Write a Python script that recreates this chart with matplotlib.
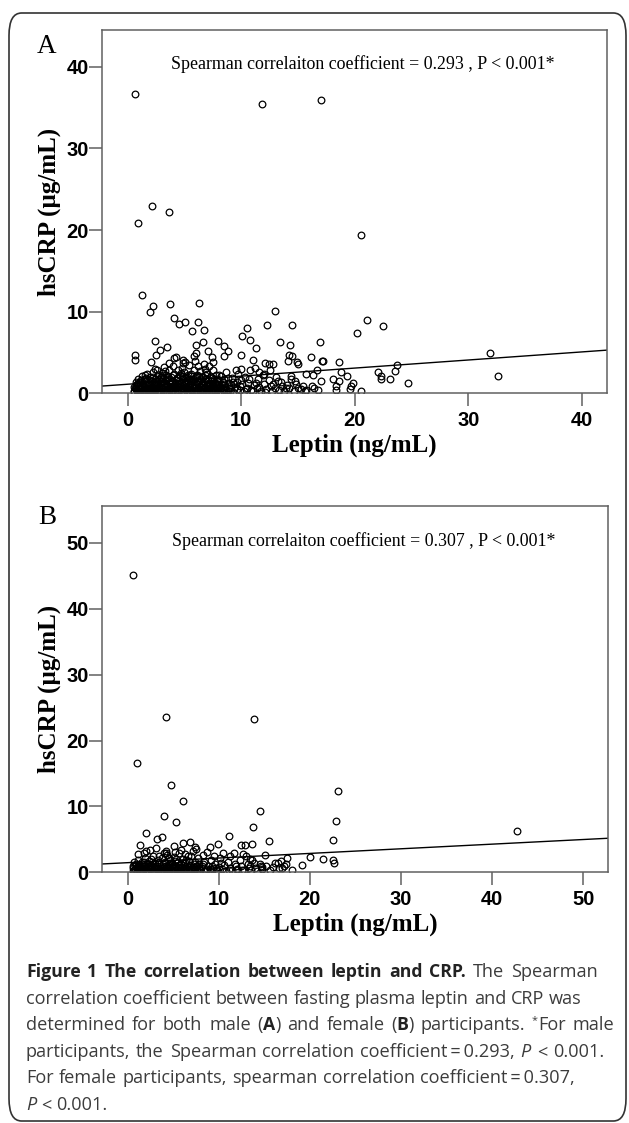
import numpy as np
import matplotlib
matplotlib.use("Agg")
import matplotlib.pyplot as plt
from matplotlib.patches import FancyBboxPatch

# ---- data ----
# panel A (male): leptin (ng/mL), hsCRP (ug/mL)
a_sparse = [
    (0.67, 36.6), (11.8, 35.4), (17.0, 35.9), (2.15, 22.9), (3.63, 22.2), (0.88, 20.9),
    (20.5, 19.4), (1.27, 12.0), (2.26, 10.75), (3.74, 10.9), (1.98, 10.0), (6.24, 11.1),
    (13.0, 10.1), (4.06, 9.2), (4.48, 8.5), (5.08, 8.76), (6.2, 8.7), (5.64, 7.6),
    (6.74, 7.7), (12.3, 8.35), (14.5, 8.35), (10.5, 7.94), (10.1, 7.05), (10.8, 6.56),
    (11.3, 5.58), (21.1, 9.0), (22.5, 8.2), (20.2, 7.33), (13.4, 6.3), (14.3, 5.9),
    (16.9, 6.23), (31.9, 4.93), (32.6, 2.08), (24.7, 1.3), (23.7, 3.46), (23.5, 2.73),
    (23.1, 1.71), (22.3, 1.75), (22.3, 2.16), (22.0, 2.57), (20.5, 0.33), (19.8, 1.3),
    (19.7, 0.86), (19.6, 0.53), (19.3, 2.16), (18.8, 2.65), (18.6, 3.8), (18.3, 0.86),
    (18.3, 0.45), (18.6, 1.55), (18.1, 1.7), (17.2, 4.0), (17.1, 4.0), (17.0, 1.5),
    (16.7, 2.9), (16.3, 2.24), (16.1, 4.4), (16.2, 0.94), (15.7, 2.36), (15.0, 3.6),
    (14.9, 3.87), (14.5, 4.56), (14.2, 4.68), (14.1, 3.9), (14.4, 2.16), (14.7, 1.55),
    (15.3, 0.53), (15.4, 0.94), (15.7, 0.45), (12.8, 3.54), (12.4, 3.58), (12.1, 3.7),
    (12.0, 2.36), (11.6, 2.57), (11.0, 4.07), (10.0, 4.68), (7.97, 6.35), (8.5, 5.74),
    (8.85, 5.13), (8.5, 4.6), (7.1, 5.2), (6.67, 6.23), (6.03, 5.95), (6.03, 4.97),
    (5.8, 4.6), (3.46, 5.7), (2.43, 6.35), (2.86, 5.34), (2.47, 4.68), (2.05, 3.87),
    (0.63, 4.72), (0.63, 4.07), (4.1, 4.36), (4.23, 4.48), (4.87, 4.07), (5.04, 3.87),
    (7.4, 4.48), (7.55, 3.8), (7.16, 3.38), (10.0, 2.97),
]
a_dense = [
    (0.6, 0.3), (0.6, 0.8), (0.7, 1.4), (0.7, 0.5), (0.8, 1.1), (0.9, 0.2), (0.9, 1.8),
    (1.0, 0.6), (1.1, 1.0), (1.1, 0.3), (1.2, 1.6), (1.3, 0.8), (1.3, 2.1), (1.4, 0.4),
    (1.5, 1.2), (1.5, 0.1), (1.6, 1.9), (1.7, 0.7), (1.7, 2.4), (1.8, 1.4), (1.9, 0.3),
    (1.9, 1.0), (2.0, 2.0), (2.0, 0.6), (2.1, 1.5), (2.2, 0.2), (2.2, 2.6), (2.3, 0.9),
    (2.4, 1.8), (2.4, 0.4), (2.5, 1.2), (2.6, 2.9), (2.6, 0.7), (2.7, 2.2), (2.8, 0.2),
    (2.8, 1.6), (2.9, 1.0), (3.0, 2.5), (3.0, 0.5), (3.1, 1.9), (3.2, 0.8), (3.2, 3.2),
    (3.3, 1.3), (3.4, 0.3), (3.4, 2.3), (3.5, 1.7), (3.6, 0.6), (3.6, 2.8), (3.7, 1.1),
    (3.8, 0.2), (3.8, 2.0), (3.9, 1.5), (3.9, 0.9), (4.0, 3.4), (4.0, 0.4), (4.1, 2.4),
    (4.2, 1.2), (4.2, 0.7), (4.3, 1.9), (4.4, 0.3), (4.4, 2.9), (4.5, 1.5), (4.6, 0.9),
    (4.6, 2.2), (4.7, 0.2), (4.8, 1.7), (4.8, 3.1), (4.9, 1.0), (5.0, 0.5), (5.0, 2.6),
    (5.1, 1.4), (5.2, 0.2), (5.2, 2.0), (5.3, 0.8), (5.4, 1.8), (5.4, 3.5), (5.5, 1.1),
    (5.6, 0.4), (5.6, 2.4), (5.7, 1.5), (5.8, 0.7), (5.8, 2.9), (5.9, 1.9), (6.0, 0.3),
    (6.0, 1.2), (6.1, 2.3), (6.2, 0.6), (6.2, 3.3), (6.3, 1.6), (6.4, 0.2), (6.4, 2.7),
    (6.5, 1.0), (6.6, 2.0), (6.6, 0.5), (6.7, 1.4), (6.8, 3.0), (6.8, 0.8), (6.9, 1.8),
    (7.0, 0.3), (7.0, 2.4), (7.1, 1.2), (7.2, 0.6), (7.3, 2.0), (7.3, 1.5), (7.4, 0.2),
    (7.5, 2.8), (7.5, 0.9), (7.6, 1.7), (7.7, 0.4), (7.8, 1.2), (7.8, 2.3), (7.9, 0.7),
    (8.0, 1.6), (8.1, 0.3), (8.2, 2.1), (8.3, 1.0), (8.4, 0.5), (8.5, 1.8), (8.6, 0.8),
    (8.7, 2.6), (8.8, 0.3), (8.9, 1.3), (9.0, 0.6), (9.2, 1.9), (9.3, 0.2), (9.4, 1.1),
    (9.6, 0.5), (9.7, 2.4), (9.9, 0.9), (10.0, 1.6), (10.2, 0.3), (10.3, 2.0), (10.5, 0.7),
    (10.6, 1.3), (10.8, 2.8), (10.9, 0.4), (11.1, 1.0), (11.2, 3.1), (11.4, 0.6), (11.5, 1.8),
    (11.7, 0.3), (11.9, 2.3), (12.0, 1.1), (12.2, 0.5), (12.4, 1.6), (12.5, 2.9), (12.7, 0.3),
    (12.8, 1.2), (13.0, 0.7), (13.1, 2.0), (13.3, 0.4), (13.5, 1.4), (13.6, 0.9), (13.8, 0.3),
    (14.0, 1.0), (14.2, 0.6), (14.4, 1.7), (14.6, 0.3), (14.8, 1.2), (15.0, 0.7), (15.6, 0.3),
    (16.4, 0.6), (16.8, 0.4),
    (0.6, 0.1), (0.8, 0.4), (1.0, 0.2), (1.2, 0.5), (1.4, 0.9), (1.6, 0.3), (1.8, 0.6),
    (2.0, 0.1), (2.1, 0.8), (2.3, 0.3), (2.5, 0.5), (2.7, 0.1), (2.9, 0.6), (3.1, 0.3),
    (3.3, 0.8), (3.5, 0.2), (3.7, 0.5), (3.9, 0.1), (4.1, 0.6), (4.3, 0.3), (4.5, 0.8),
    (4.7, 0.5), (4.9, 0.2), (5.1, 0.7), (5.3, 0.3), (5.5, 0.5), (5.7, 0.1), (5.9, 0.6),
    (6.1, 0.3), (6.3, 0.8), (6.5, 0.2), (6.7, 0.6), (6.9, 0.1), (7.1, 0.5), (7.3, 0.3),
    (7.5, 0.6), (7.7, 0.1), (7.9, 0.4), (8.1, 0.8), (8.3, 0.2), (8.5, 0.5), (8.7, 0.1),
    (8.9, 0.6), (0.9, 1.3), (1.4, 1.6), (1.8, 1.1), (2.3, 1.4), (2.7, 1.2), (3.0, 1.5),
    (3.5, 1.0), (3.9, 1.3), (4.4, 1.1), (4.7, 1.3), (5.2, 1.6), (5.6, 1.3), (6.1, 1.5),
    (6.5, 1.3), (7.0, 1.1), (7.4, 1.3), (7.9, 1.1), (8.4, 1.4), (9.1, 1.0), (9.6, 1.4),
    (1.5, 2.3), (2.9, 2.0), (3.3, 2.7), (4.7, 2.5), (5.3, 2.3), (6.3, 2.1), (6.9, 2.6),
    (8.0, 2.2), (9.5, 2.8), (2.4, 3.0), (4.9, 3.7), (6.7, 3.6), (5.9, 3.9), (3.6, 3.7),
    (0.65, 0.6), (0.75, 1.0), (0.85, 0.3), (0.95, 0.7), (1.05, 1.4), (1.15, 0.5), (1.25, 0.2),
    (1.35, 1.2), (1.45, 0.7), (1.55, 1.7), (1.65, 0.5), (1.75, 1.1), (1.85, 0.2), (1.95, 1.6),
    (2.05, 0.4), (2.15, 1.1), (2.25, 2.0), (2.35, 0.6), (2.45, 1.4), (2.55, 0.2), (2.65, 1.8),
    (2.75, 0.8), (2.85, 1.3), (2.95, 0.3), (3.05, 1.0), (3.15, 2.2), (3.25, 0.5), (3.35, 1.6),
    (3.45, 0.9), (3.55, 2.0), (3.65, 0.3), (3.75, 1.4), (3.85, 0.7), (3.95, 2.3), (4.05, 1.0),
    (4.15, 0.2), (4.25, 1.6), (4.35, 0.8), (4.45, 2.0), (4.55, 0.4), (4.65, 1.2), (4.75, 0.7),
    (4.85, 2.1), (4.95, 0.3), (5.05, 1.1), (5.15, 1.9), (5.25, 0.5), (5.35, 1.3), (5.45, 0.2),
    (5.55, 2.1), (5.65, 0.9), (5.75, 1.7), (5.85, 0.3), (5.95, 1.0), (6.05, 2.0), (6.15, 0.6),
    (6.25, 1.2), (6.35, 0.4), (6.45, 1.8), (6.55, 0.8), (6.65, 1.1), (6.75, 0.3), (6.85, 2.2),
    (6.95, 0.9), (7.05, 1.6), (7.15, 0.2), (7.25, 1.0), (7.35, 0.6), (7.45, 1.9), (7.55, 0.4),
    (7.65, 1.3), (7.75, 0.8), (7.85, 1.8), (7.95, 0.2), (8.05, 1.1), (8.25, 0.6), (8.45, 1.2),
    (8.65, 0.4), (8.85, 1.9), (9.05, 0.3), (9.25, 1.4), (9.45, 0.8), (9.85, 0.4), (10.1, 1.1),
    (10.4, 0.5), (10.7, 1.8), (11.0, 0.3), (11.3, 1.3), (11.6, 0.8), (12.1, 0.2), (12.6, 0.9),
    (13.2, 1.5), (13.9, 0.6),
]

# panel B (female)
b_sparse = [
    (0.62, 45.2), (1.01, 16.6), (4.27, 23.6), (13.9, 23.3), (4.8, 13.2), (6.08, 10.8),
    (4.05, 8.47), (5.37, 7.6), (23.1, 12.4), (22.9, 7.8), (22.6, 4.87), (22.6, 1.88),
    (22.7, 1.37), (42.8, 6.34), (14.5, 9.28), (13.8, 6.85), (15.5, 4.72), (11.1, 5.58),
    (13.7, 4.31), (12.5, 4.2), (12.9, 4.2), (2.03, 5.98), (3.26, 5.12), (3.79, 5.38),
    (1.32, 4.16), (6.12, 4.46), (6.83, 4.56), (9.9, 4.31), (5.15, 4.06), (20.0, 2.38),
    (21.4, 1.98), (19.2, 1.17), (17.5, 2.13), (16.5, 1.37), (15.1, 2.64), (11.7, 2.89),
    (9.1, 3.8), (8.7, 3.14), (7.5, 3.5), (7.36, 3.9), (5.24, 3.14), (4.23, 3.3),
    (4.0, 2.89), (3.13, 3.65), (2.42, 3.4), (1.8, 3.0), (16.8, 1.77), (17.4, 1.27),
    (16.0, 0.86), (14.8, 0.81), (13.4, 0.96), (16.9, 0.71),
]
b_dense = [
    (0.6, 0.2), (0.6, 0.9), (0.7, 1.6), (0.8, 0.5), (0.9, 1.2), (1.0, 0.1), (1.1, 0.7),
    (1.2, 1.9), (1.3, 0.3), (1.4, 1.0), (1.5, 0.6), (1.6, 1.5), (1.7, 0.2), (1.8, 0.9),
    (1.9, 2.2), (2.0, 0.4), (2.1, 1.3), (2.2, 0.7), (2.3, 0.1), (2.4, 1.7), (2.5, 0.5),
    (2.6, 1.1), (2.7, 0.2), (2.8, 2.5), (2.9, 0.8), (3.0, 1.4), (3.1, 0.3), (3.2, 0.9),
    (3.3, 1.9), (3.4, 0.5), (3.5, 1.2), (3.6, 0.1), (3.7, 0.7), (3.8, 2.1), (3.9, 1.0),
    (4.0, 0.3), (4.1, 1.5), (4.2, 0.6), (4.3, 2.6), (4.4, 0.2), (4.5, 1.1), (4.6, 0.8),
    (4.7, 1.8), (4.8, 0.4), (4.9, 1.3), (5.0, 0.1), (5.1, 2.3), (5.2, 0.7), (5.3, 1.0),
    (5.4, 0.3), (5.5, 1.6), (5.6, 0.6), (5.7, 2.9), (5.8, 0.2), (5.9, 1.2), (6.0, 0.8),
    (6.1, 2.0), (6.2, 0.4), (6.3, 1.4), (6.4, 0.1), (6.5, 0.9), (6.6, 2.4), (6.7, 0.5),
    (6.8, 1.7), (6.9, 0.2), (7.0, 1.1), (7.1, 0.7), (7.2, 3.2), (7.3, 0.3), (7.4, 1.5),
    (7.5, 0.9), (7.6, 0.2), (7.7, 2.1), (7.8, 0.6), (7.9, 1.2), (8.0, 0.3), (8.2, 0.9),
    (8.4, 1.6), (8.6, 0.4), (8.8, 1.0), (9.0, 0.2), (9.2, 1.9), (9.4, 0.6), (9.6, 1.3),
    (9.8, 0.3), (10.0, 0.8), (10.2, 2.2), (10.4, 0.5), (10.6, 1.1), (10.8, 0.2), (11.0, 1.6),
    (11.3, 0.7), (11.5, 0.3), (11.8, 1.3), (12.0, 0.5), (12.3, 1.8), (12.5, 0.9), (12.8, 0.3),
    (13.0, 2.4), (13.2, 1.2), (13.5, 0.4), (13.7, 1.9), (14.0, 0.7), (14.2, 0.2), (14.5, 1.3),
    (14.8, 0.5), (15.2, 1.0), (15.6, 0.4), (16.2, 1.4), (16.6, 0.6), (17.2, 0.9), (18.0, 0.4),
    (0.7, 0.4), (1.0, 0.8), (1.3, 0.6), (1.6, 0.3), (1.9, 0.6), (2.2, 0.3), (2.5, 0.9),
    (2.8, 0.4), (3.1, 0.7), (3.4, 0.2), (3.7, 0.4), (4.0, 0.8), (4.3, 0.4), (4.6, 0.3),
    (4.9, 0.6), (5.2, 0.3), (5.5, 0.8), (5.8, 0.5), (6.1, 0.3), (6.4, 0.6), (6.7, 0.2),
    (7.0, 0.5), (7.3, 0.8), (7.6, 0.4), (8.1, 0.6), (8.5, 0.2), (9.1, 0.5), (9.7, 0.7),
    (1.2, 2.8), (2.0, 3.2), (2.6, 2.0), (3.5, 2.4), (4.2, 3.0), (4.6, 2.2), (5.3, 2.0),
    (5.9, 3.4), (6.3, 2.8), (7.0, 2.5), (8.3, 2.7), (9.5, 2.4), (10.5, 3.0), (11.2, 2.5),
    (12.7, 2.8), (13.4, 2.0),
    (0.65, 0.6), (0.85, 1.0), (1.05, 0.3), (1.25, 1.2), (1.45, 0.4), (1.65, 0.9), (1.85, 1.5),
    (2.05, 0.2), (2.25, 1.0), (2.45, 0.6), (2.65, 1.5), (2.85, 0.2), (3.05, 1.0), (3.25, 0.5),
    (3.45, 1.6), (3.65, 0.4), (3.85, 1.3), (4.05, 0.2), (4.25, 1.0), (4.45, 0.6), (4.65, 1.4),
    (4.85, 0.2), (5.05, 0.9), (5.25, 1.7), (5.45, 0.5), (5.65, 1.1), (5.85, 0.3), (6.05, 1.4),
    (6.25, 0.7), (6.45, 1.9), (6.65, 0.4), (6.85, 1.0), (7.05, 0.2), (7.25, 1.3), (7.45, 0.5),
    (7.65, 1.0), (7.85, 0.3), (8.3, 1.2), (8.7, 0.5), (9.3, 0.9), (9.9, 0.2), (10.3, 1.4),
    (11.1, 0.4), (11.9, 0.9), (12.6, 0.4), (13.3, 0.7), (13.9, 1.4), (14.6, 0.9),
]

# fitted lines (intercept, slope)
a_fit = (1.11, 0.099)
b_fit = (1.46, 0.0703)

a_text = "Spearman correlaiton coefficient = 0.293 , P < 0.001*"
b_text = "Spearman correlaiton coefficient = 0.307 , P < 0.001*"
a_ticks = [0, 10, 20, 30, 40]
a_yticks = [0, 10, 20, 30, 40]
b_ticks = [0, 10, 20, 30, 40, 50]
b_yticks = [0, 10, 20, 30, 40, 50]

W, H = 629, 1123
fig = plt.figure(figsize=(W / 100, H / 100), dpi=100)

# rounded frame around the figure
frame = FancyBboxPatch((9 / W, 2 / H), 617 / W, 1108 / H,
                       boxstyle="round,pad=0,rounding_size=0.02",
                       transform=fig.transFigure, fill=False,
                       edgecolor="#333333", linewidth=1.2)
fig.patches.append(frame)

serif = ["Liberation Serif", "DejaVu Serif"]
tickfont = ["Liberation Sans Narrow", "Liberation Sans", "DejaVu Sans"]
spine_c = "#606060"


def panel(rect, pts_sparse, pts_dense, fit, xlim, ylim, xt, yt, label, label_y, note):
    ax = fig.add_axes([rect[0] / W, 1 - rect[3] / H,
                       (rect[2] - rect[0]) / W, (rect[3] - rect[1]) / H])
    pts = np.array(pts_dense + pts_sparse)
    ax.plot(pts[:, 0], pts[:, 1], "o", ms=4.8, mfc="none", mec="black", mew=0.9)
    xs = np.array(xlim)
    ax.plot(xs, fit[0] + fit[1] * xs, color="black", lw=1.0)
    ax.set_xlim(xlim)
    ax.set_ylim(ylim)
    ax.set_xticks(xt)
    ax.set_yticks(yt)
    for s in ax.spines.values():
        s.set_color(spine_c)
        s.set_linewidth(1.1)
    ax.tick_params(direction="out", length=9.5, width=1.1, color=spine_c,
                   top=False, right=False)
    ax.tick_params(axis="x", pad=3)
    ax.tick_params(axis="y", pad=0)
    for t in ax.get_xticklabels() + ax.get_yticklabels():
        t.set_family(tickfont)
        t.set_fontweight("bold")
        t.set_fontsize(14.5)
    ax.set_xlabel("Leptin (ng/mL)", family=serif, fontweight="bold", fontsize=18,
                  labelpad=3)
    ax.set_ylabel("hsCRP (\u00b5g/mL)", family=serif, fontweight="bold", fontsize=18,
                  labelpad=4)
    ax.text(0.517, 0.905, note, transform=ax.transAxes, ha="center", va="center",
            family=serif, fontsize=12.9)
    fig.text(47 / W, 1 - label_y / H, label, family=serif, fontsize=19.5,
             ha="center", va="center")
    return ax


panel((102, 30, 607, 393.3), a_sparse, a_dense, a_fit, (-2.26, 42.2), (0, 44.5),
      a_ticks, a_yticks, "A", 46.5, a_text)
panel((102, 506, 607.7, 872.3), b_sparse, b_dense, b_fit, (-2.8, 52.7), (0, 55.6),
      b_ticks, b_yticks, "B", 517, b_text)

# ---- caption with mixed styles ----
cap_font = ["Open Sans", "DejaVu Sans"]
cap_size = 13.1
cap_color = "#3c3c3c"
caption_lines = [
    [("Figure 1 The correlation between leptin and CRP.", "b"), (" The Spearman", "r")],
    [("correlation coefficient between fasting plasma leptin and CRP was", "r")],
    [("determined for both male (", "r"), ("A", "b"), (") and female (", "r"), ("B", "b"),
     (") participants. ", "r"), ("*", "s"), ("For male", "r")],
    [("participants, the Spearman correlation coefficient\u2009=\u20090.293, ", "r"),
     ("P", "i"), (" < 0.001.", "r")],
    [("For female participants, spearman correlation coefficient\u2009=\u20090.307,", "r")],
    [("P", "i"), (" < 0.001.", "r")],
]
# right edge of each caption line (None = natural width)
line_ends = [598, 582, 614, 604, 575, None]

fig.canvas.draw()
renderer = fig.canvas.get_renderer()


def style_kw(st):
    kw = dict(family=cap_font, fontsize=cap_size, color=cap_color)
    if st == "b":
        kw.update(fontweight="bold", color="#222222", fontsize=12.7)
    elif st == "i":
        kw.update(style="italic")
    elif st == "s":
        kw.update(fontsize=cap_size * 0.6)
    return kw


def run_width(txt, kw):
    t1 = fig.text(0, 0, txt + "x", **kw)
    t2 = fig.text(0, 0, "x", **kw)
    w = t1.get_window_extent(renderer).width - t2.get_window_extent(renderer).width
    t1.remove()
    t2.remove()
    return w


def tokens(line):
    out = []
    for txt, st in line:
        parts = txt.split(" ")
        for j, p in enumerate(parts):
            if j > 0:
                out.append((" ", st))
            if p:
                out.append((p, st))
    return out


x0, y0, dy_line = 26.0, 977, 26.6
for i, line in enumerate(caption_lines):
    toks = tokens(line)
    widths = [run_width(t, style_kw(st)) for t, st in toks]
    nspace = sum(1 for t, _ in toks if t == " ")
    extra = 0.0
    if line_ends[i] is not None and nspace:
        extra = max(0.0, (line_ends[i] - x0 - sum(widths)) / nspace)
    x = x0
    yb = y0 + i * dy_line
    for (t, st), w in zip(toks, widths):
        if t == " ":
            x += w + extra
            continue
        kw = style_kw(st)
        dy = -7 if st == "s" else 0
        fig.text(x / W, 1 - (yb + dy) / H, t, ha="left", va="baseline", **kw)
        x += w

fig.savefig("out.png", dpi=100)
